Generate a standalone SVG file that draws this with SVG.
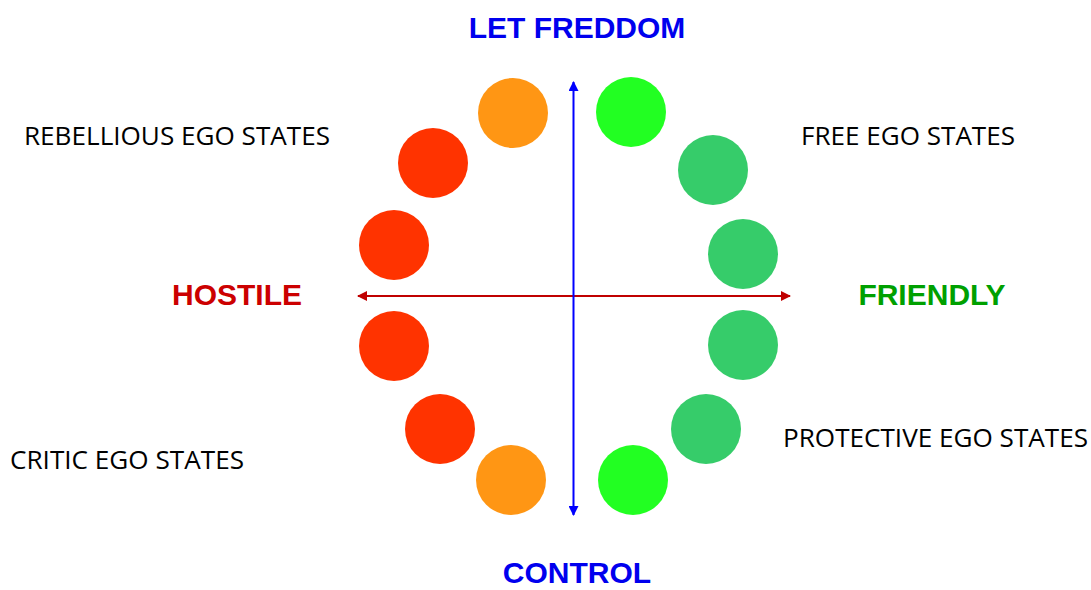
<svg xmlns="http://www.w3.org/2000/svg" width="1091" height="590" viewBox="0 0 1091 590">
<style>
.ax{font-family:"Liberation Sans",Arial,sans-serif;font-weight:bold;font-size:30px;text-anchor:middle}
.lb{font-family:"Open Sans","Noto Sans",sans-serif;font-size:26px;fill:#000}
.red{fill:#ff3300}.org{fill:#ff9614}.lg{fill:#22ff22}.mg{fill:#36cc6a}
</style>
<defs>
<marker id="ab" viewBox="0 0 10 10" refX="9" refY="5" markerWidth="5" markerHeight="5" orient="auto-start-reverse" markerUnits="strokeWidth"><path d="M0,0L10,5L0,10z" fill="#0000ff"/></marker>
<marker id="ar" viewBox="0 0 10 10" refX="9" refY="5" markerWidth="5" markerHeight="5" orient="auto-start-reverse" markerUnits="strokeWidth"><path d="M0,0L10,5L0,10z" fill="#c00000"/></marker>
</defs>
<rect width="1091" height="590" fill="#fff"/>
<g id="connectors">
<line x1="358" y1="296" x2="790" y2="296" stroke="#c00000" stroke-width="2" marker-start="url(#ar)" marker-end="url(#ar)"/>
<line x1="573.5" y1="82" x2="573.5" y2="515" stroke="#0000ff" stroke-width="2" marker-start="url(#ab)" marker-end="url(#ab)"/>
</g>
<g id="circles-left">
<circle id="c-l1" class="org" cx="513" cy="113" r="35"/>
<circle id="c-l2" class="red" cx="433" cy="163" r="35"/>
<circle id="c-l3" class="red" cx="394" cy="245" r="35"/>
<circle id="c-l4" class="red" cx="394" cy="346" r="35"/>
<circle id="c-l5" class="red" cx="440" cy="429" r="35"/>
<circle id="c-l6" class="org" cx="511" cy="480" r="35"/>
</g>
<g id="circles-right">
<circle id="c-r1" class="lg" cx="631" cy="112" r="35"/>
<circle id="c-r2" class="mg" cx="713" cy="170" r="35"/>
<circle id="c-r3" class="mg" cx="743" cy="254" r="35"/>
<circle id="c-r4" class="mg" cx="743" cy="345" r="35"/>
<circle id="c-r5" class="mg" cx="706" cy="429" r="35"/>
<circle id="c-r6" class="lg" cx="633" cy="480" r="35"/>
</g>
<g id="axis-labels">
<text id="t-freedom" class="ax" x="577" y="38" fill="#0000ee">LET FREDDOM</text>
<text id="t-control" class="ax" x="577" y="583" fill="#0000ee">CONTROL</text>
<text id="t-hostile" class="ax" x="237" y="305" fill="#cc0000">HOSTILE</text>
<text id="t-friendly" class="ax" x="932" y="305" fill="#00a000">FRIENDLY</text>
</g>
<g id="state-labels">
<text id="t-rebel" class="lb" x="24" y="145" textLength="306" lengthAdjust="spacingAndGlyphs">REBELLIOUS EGO STATES</text>
<text id="t-free" class="lb" x="801" y="145" textLength="214" lengthAdjust="spacingAndGlyphs">FREE EGO STATES</text>
<text id="t-critic" class="lb" x="10" y="469" textLength="234" lengthAdjust="spacingAndGlyphs">CRITIC EGO STATES</text>
<text id="t-protect" class="lb" x="783" y="447" textLength="305" lengthAdjust="spacingAndGlyphs">PROTECTIVE EGO STATES</text>
</g>
</svg>
